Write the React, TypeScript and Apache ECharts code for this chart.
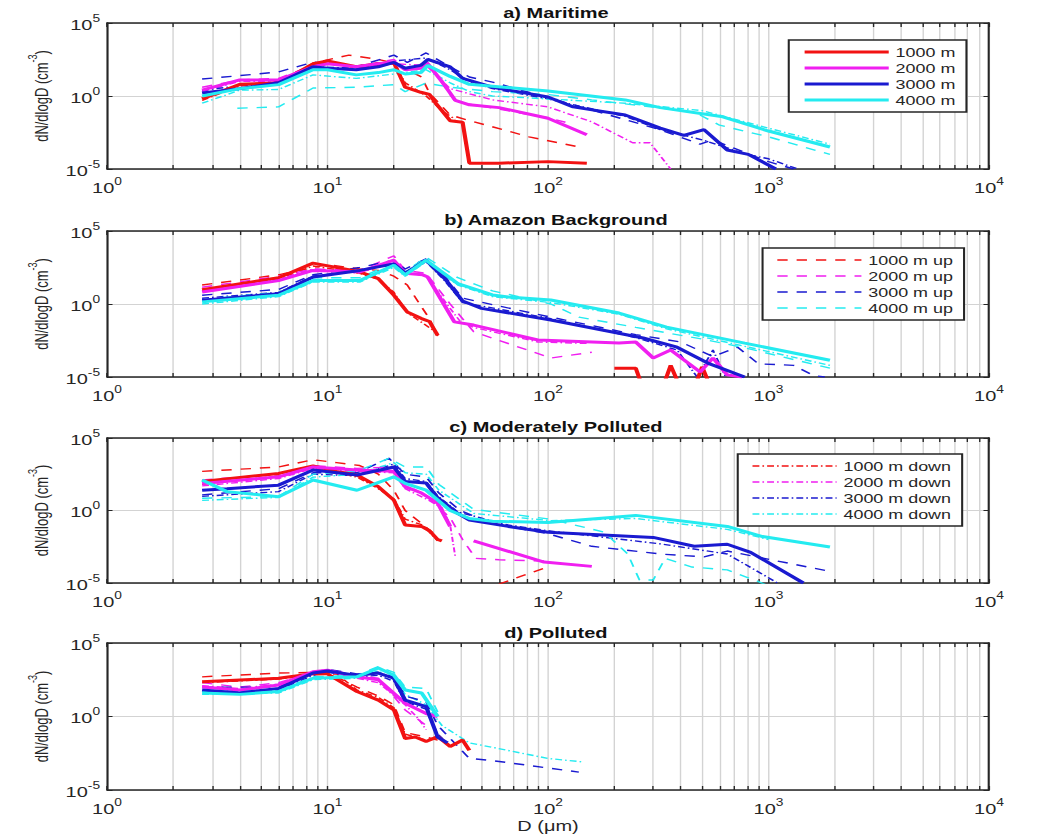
import React, { useEffect, useRef } from 'react';
import * as echarts from 'echarts';

// ---- axis ticks ----
const DIAM_LABEL_TICKS = [1, 10, 100, 1000, 10000];
const DIAM_GRID_TICKS = [
  1, 2, 3, 4, 5, 6, 7, 8, 9,
  10, 20, 30, 40, 50, 60, 70, 80, 90,
  100, 200, 300, 400, 500, 600, 700, 800, 900,
  1000, 2000, 3000, 4000, 5000, 6000, 7000, 8000, 9000,
  10000,
];
const CONC_TICKS = [1e-5, 1, 1e5];

const PANEL_TITLES = ['a) Maritime', 'b) Amazon Background', 'c) Moderately Polluted', 'd) Polluted'];
const ALTITUDES = ['1000 m', '2000 m', '3000 m', '4000 m'];
const ALT_COLORS = ['#f21212', '#f01ff0', '#1a1ad0', '#24ebf0'];

// ---- a) Maritime: [D (um), dN/dlogD (cm^-3)] ----
const maritime1000 = [[2.7, 0.63], [4, 6.3], [6, 8], [8.6, 160], [10, 250], [13.5, 100], [17, 160], [20, 200], [22.5, 4], [26.5, 1.8], [29, 1.3], [31, 0.32], [36, 0.02], [41, 0.016], [44, 2.5e-5], [60, 2.5e-5], [100, 3.2e-5], [150, 2.5e-5]];
const maritime2000 = [[2.7, 2.5], [4, 12.6], [6, 12.6], [8.6, 100], [10, 160], [13.5, 100], [17, 160], [20, 220], [22.5, 63], [26.5, 80], [28.5, 160], [33, 10], [38, 0.5], [44, 0.25], [60, 0.16], [100, 0.03], [150, 0.0022]];
const maritime3000 = [[2.7, 1.6], [4, 3.2], [6, 8], [8.6, 100], [10, 80], [13.5, 63], [17, 100], [20, 200], [22.5, 80], [26.5, 125], [28.5, 320], [36, 100], [41, 16], [56, 4], [100, 0.85], [130, 0.18], [224, 0.05], [323, 0.0063], [413, 0.002], [510, 0.005], [650, 2e-4], [810, 1e-4], [1080, 1e-5]];
const maritime4000 = [[2.7, 1], [4, 3.2], [6, 6], [8.6, 63], [10, 63], [13.5, 28], [17, 40], [20, 63], [22.5, 32], [26.5, 40], [28.5, 125], [36, 22], [44, 6.3], [56, 4.7], [100, 2.2], [224, 0.54], [323, 0.16], [610, 0.04], [1000, 0.004], [1900, 3.2e-4]];
const maritime1000Up = [[2.7, 0.7], [4, 5.6], [6, 8], [8.6, 180], [12.5, 630], [17, 320], [20, 180], [26.7, 20], [29, 1.6], [36, 0.05], [43, 0.023], [82, 0.0016], [145, 2.8e-4]];
const maritime2000Up = [[2.7, 4], [4, 12.6], [6, 16], [8.6, 125], [10, 200], [13.5, 100], [17, 200], [20, 320], [22.5, 80], [28.5, 200], [33, 8], [38, 0.4], [50, 0.2], [100, 0.032], [120, 0.016]];
const maritime3000Up = [[2.7, 14.5], [6, 44], [8.6, 210], [13.5, 100], [20, 630], [23, 200], [28, 890], [36, 100], [44, 20], [56, 9], [158, 0.11], [325, 0.0047], [490, 5e-4], [560, 0.001], [650, 4e-4], [1000, 3.2e-5], [1300, 1e-5]];
const maritime4000Up = [[3.9, 0.145], [6, 0.18], [8.6, 3.5], [13.5, 4], [20, 6], [22.5, 2], [28, 7.6], [36, 4], [56, 2], [100, 1.26], [158, 0.54], [460, 0.08], [600, 0.01], [1000, 0.0016], [1900, 1e-4]];
const maritime1000Down = [[2.7, 0.5], [4, 5], [6, 7], [8.6, 126], [10, 200], [13.5, 80], [17, 126], [20, 160], [22.5, 8], [28, 1], [33, 0.1], [38, 0.025]];
const maritime2000Down = [[2.7, 2], [4, 10], [6, 10], [8.6, 80], [13.5, 80], [20, 160], [28, 126], [36, 3.2], [56, 0.54], [100, 0.18], [158, 0.017], [242, 6.3e-4], [290, 6.3e-4], [360, 1e-5]];
const maritime3000Down = [[2.7, 2.5], [4, 5], [6, 10], [8.6, 100], [13.5, 80], [20, 250], [28, 400], [36, 63], [44, 10], [56, 3.2], [100, 0.63], [224, 0.04], [323, 0.005], [500, 0.001], [800, 1e-4], [1000, 5e-5], [1360, 1e-5]];
const maritime4000Down = [[2.7, 0.32], [4, 2.5], [6, 2.8], [8.6, 28], [13.5, 16], [20, 32], [28, 63], [36, 8], [44, 2], [56, 1], [100, 0.63], [224, 0.32], [500, 0.1], [1000, 0.0063], [1900, 5e-4]];

// ---- b) Amazon Background ----
const amazon1000 = [[2.7, 9.5], [6, 63], [8.6, 630], [14, 160], [17, 55], [20, 4], [23, 0.28], [26.7, 0.1], [29, 0.063], [31.6, 0.007], [40, null], [200, 4e-5], [250, 4e-5], [270, 1.6e-6], [330, 1.6e-6], [360, 6.3e-5], [400, 1.6e-6], [460, 1.6e-6], [500, 5e-5], [550, 1.6e-6]];
const amazon2000 = [[2.7, 6.6], [6, 40], [8.6, 200], [14, 160], [20, 1000], [22.5, 126], [27, 100], [28.5, 70], [37.6, 0.06], [46, 0.036], [90, 0.0034], [210, 0.0021], [250, 0.0025], [300, 2e-4], [360, 7e-4], [490, 2.2e-5], [560, 2e-4], [650, 1.4e-5], [760, 1e-5]];
const amazon3000 = [[2.7, 1.8], [6, 5], [8.6, 70], [14, 200], [20, 560], [22.5, 126], [28, 1000], [34, 55], [41, 1.6], [50, 0.5], [103, 0.08], [270, 0.0047], [385, 0.0011], [530, 9e-5], [780, 1e-5]];
const amazon4000 = [[2.7, 1.4], [6, 4], [8.6, 40], [14, 40], [20, 450], [22.5, 100], [28, 1000], [39, 25], [56, 4.2], [66, 3], [103, 1.9], [210, 0.24], [345, 0.026], [780, 0.0021], [1900, 1.4e-4]];
const amazon1000Up = [[2.7, 20], [6, 100], [8.6, 320], [10, 500], [14, 250], [17, 200], [20, 80], [23, 20], [26.7, 0.63], [29, 0.1], [31.6, 0.0063]];
const amazon2000Up = [[2.7, 14], [6, 80], [8.6, 250], [14, 200], [20, 2000], [22.5, 200], [28, 126], [36, 1], [46, 0.0126], [103, 2e-4], [158, 5e-4]];
const amazon3000Up = [[2.7, 4], [6, 10], [8.6, 100], [14, 320], [20, 1000], [22.5, 250], [28, 1260], [34, 80], [41, 2.5], [103, 0.126], [250, 0.008], [400, 0.0025], [560, 2.5e-4], [725, 0.0011], [900, 8e-5], [1300, 6.3e-5], [1600, 1.26e-5], [1800, 1e-5]];
const amazon4000Up = [[2.7, 2], [6, 6.3], [8.6, 63], [14, 63], [20, 630], [22.5, 160], [28, 1600], [39, 63], [56, 8], [103, 1], [138, 0.126], [250, 0.025], [500, 0.004], [780, 0.001], [1900, 4e-5]];
const amazon1000Down = [[2.7, 8], [6, 50], [8.6, 400], [14, 126], [17, 50], [20, 6.3], [23, 0.25], [27, 0.05], [31.6, 0.01]];
const amazon2000Down = [[2.7, 8], [6, 50], [8.6, 250], [14, 126], [20, 1000], [22.5, 160], [28, 80], [36, 0.5], [40, 0.063], [46, 0.025], [90, 0.0025], [150, 0.002]];
const amazon3000Down = [[2.7, 2.5], [6, 6.3], [8.6, 80], [14, 200], [20, 630], [22.5, 160], [28, 800], [34, 40], [41, 1.26], [103, 0.1], [250, 0.005], [385, 7e-4], [475, 1e-5], [560, 7e-4], [640, 1e-5]];
const amazon4000Down = [[2.7, 1], [6, 3.2], [8.6, 32], [14, 32], [20, 320], [22.5, 80], [28, 800], [39, 20], [56, 3.2], [103, 1.26], [210, 0.2], [345, 0.02], [780, 0.00126], [1900, 6.3e-5]];

// ---- c) Moderately Polluted ----
const moderate1000 = [[2.7, 100], [6, 360], [8.6, 1200], [11, 500], [13.6, 280], [17, 44], [20, 5.2], [22.5, 0.1], [26.7, 0.08], [29, 0.04], [31.6, 0.01], [33, 0.008]];
const moderate2000 = [[2.7, 74], [6, 210], [8.6, 1000], [13.6, 630], [20, 500], [22.5, 44], [26.7, 16], [31.6, 3.2], [36, 0.08], [40, null], [46, 0.008], [96, 2.8e-4], [158, 1.4e-4]];
const moderate3000 = [[2.7, 25], [3.5, 32], [6, 56], [8.6, 630], [13.6, 280], [20, 1000], [22.5, 100], [28, 80], [31.6, 7.4], [39, 0.63], [44, 0.22], [66, 0.08], [100, 0.032], [300, 0.014], [460, 0.0034], [650, 0.0047], [830, 0.0013], [1440, 1e-5]];
const moderate4000 = [[2.7, 126], [3.5, 20], [6, 9], [8.6, 126], [13.6, 25], [20, 210], [22.5, 74], [28, 25], [36, 1], [44, 0.28], [56, 0.18], [100, 0.15], [250, 0.46], [650, 0.08], [940, 0.016], [1900, 0.003]];
const moderate1000Up = [[2.7, 500], [6, 1000], [8.6, 3200], [11, 2000], [14, 1260], [17, 320], [20, 25], [22.5, 1], [26.7, 0.126], [31.6, 0.016], [40, null], [50, 3.2e-6], [95, 1e-4]];
const moderate2000Up = [[2.7, 126], [6, 320], [8.6, 1260], [13.6, 800], [20, 1000], [22.5, 63], [28, 10], [36, 0.32], [41, 0.01], [47, 5e-4], [60, 4e-4], [100, 3.2e-4]];
const moderate3000Up = [[2.7, 12], [6, 32], [8.6, 400], [13.6, 400], [19, 4000], [22.5, 320], [28, 200], [32, 16], [40, 1], [56, 0.126], [100, 0.025], [158, 0.0034], [323, 0.001], [510, 6.3e-4], [650, 0.0016], [1900, 6.3e-5]];
const moderate4000Up = [[2.7, 7], [6, 9], [8.6, 320], [13.6, 500], [19, 4000], [22.5, 1000], [28, 1000], [32, 63], [46, 1.2], [103, 0.25], [180, 0.032], [230, 0.001], [260, 1.6e-5], [300, 1.6e-5], [340, 5e-4], [450, 1.26e-4], [650, 8e-5], [900, 1.26e-5], [1000, 6.3e-6]];
const moderate1000Down = [[2.7, 63], [6, 250], [8.6, 800], [11, 400], [13.6, 200], [17, 32], [20, 6.3], [22.5, 0.25], [27, 0.1], [31.6, 0.008]];
const moderate2000Down = [[2.7, 50], [6, 160], [8.6, 800], [13.6, 500], [20, 400], [22.5, 32], [28, 6.3], [33, 1.6], [36, 0.1], [38, 6.3e-4]];
const moderate3000Down = [[2.7, 9.5], [6, 20], [8.6, 320], [13.6, 250], [20, 1600], [22.5, 160], [28, 100], [31.6, 10], [39, 0.8], [66, 0.1], [100, 0.04], [323, 0.005], [650, 0.001], [1100, 1e-5]];
const moderate4000Down = [[2.7, 5], [6, 8], [8.6, 200], [13.6, 320], [20, 2000], [22.5, 400], [28, 320], [32, 25], [46, 0.63], [103, 0.2], [250, 0.28], [650, 0.05], [1000, 0.01]];

// ---- d) Polluted ----
const polluted1000 = [[2.7, 230], [6, 400], [8.6, 800], [10, 800], [13.6, 50], [17, 13], [20, 2.8], [22.5, 0.032], [25, 0.04], [28, 0.02], [31.6, 0.043], [36, 0.009], [41, 0.025], [44, 0.005]];
const polluted2000 = [[2.7, 100], [4, 63], [6, 140], [8.6, 1100], [10, 1400], [13.6, 500], [17, 320], [22.5, 8], [28, 1.6], [31.6, 1]];
const polluted3000 = [[2.7, 63], [4, 40], [6, 80], [8.6, 900], [10, 1260], [13.6, 630], [17, 900], [20, 400], [22.5, 13], [28, 4.7], [31.6, 0.04], [35, 0.016]];
const polluted4000 = [[2.7, 40], [4, 32], [6, 50], [8.6, 400], [13.6, 500], [17, 2000], [20, 630], [22.5, 63], [26.7, 40], [31.6, 1]];
const polluted1000Up = [[2.7, 500], [6, 900], [8.6, 1000], [10, 1000], [13.6, 100], [17, 25], [20, 6.3], [22.5, 0.08], [28, 0.04], [31.6, 0.025]];
const polluted2000Up = [[2.7, 200], [4, 100], [6, 200], [8.6, 1000], [10, 1600], [13.6, 630], [17, 400], [22.5, 2.8], [28, 0.25]];
const polluted3000Up = [[2.7, 100], [6, 100], [8.6, 1000], [10, 1600], [13.6, 800], [17, 1000], [20, 500], [22.5, 25], [28, 10], [31.6, 0.25], [44, 0.0014], [56, 0.001], [138, 1.66e-4]];
const polluted4000Up = [[2.7, 50], [6, 63], [8.6, 500], [13.6, 630], [17, 2500], [20, 1000], [22.5, 100], [28, 80], [31.6, 2]];
const polluted1000Down = [[2.7, 200], [6, 350], [8.6, 700], [11, 800], [13.6, 63], [17, 20], [20, 4], [22.5, 0.063], [28, 0.025]];
const polluted2000Down = [[2.7, 126], [4, 80], [6, 160], [8.6, 800], [10, 1260], [13.6, 400], [17, 200], [22.5, 6.3], [26, 0.63], [28, 0.126]];
const polluted3000Down = [[2.7, 50], [6, 63], [8.6, 630], [10, 1000], [13.6, 500], [17, 630], [20, 250], [22.5, 10], [28, 3.2], [31.6, 0.063], [36, 0.01]];
const polluted4000Down = [[2.7, 32], [6, 40], [8.6, 320], [13.6, 400], [17, 1260], [20, 320], [22.5, 32], [28, 6.3], [33, 0.25], [44, 0.016], [56, 0.008], [100, 0.0014], [145, 8e-4]];

const PANELS = [
  { solid: [maritime1000, maritime2000, maritime3000, maritime4000], up: [maritime1000Up, maritime2000Up, maritime3000Up, maritime4000Up], down: [maritime1000Down, maritime2000Down, maritime3000Down, maritime4000Down] },
  { solid: [amazon1000, amazon2000, amazon3000, amazon4000], up: [amazon1000Up, amazon2000Up, amazon3000Up, amazon4000Up], down: [amazon1000Down, amazon2000Down, amazon3000Down, amazon4000Down] },
  { solid: [moderate1000, moderate2000, moderate3000, moderate4000], up: [moderate1000Up, moderate2000Up, moderate3000Up, moderate4000Up], down: [moderate1000Down, moderate2000Down, moderate3000Down, moderate4000Down] },
  { solid: [polluted1000, polluted2000, polluted3000, polluted4000], up: [polluted1000Up, polluted2000Up, polluted3000Up, polluted4000Up], down: [polluted1000Down, polluted2000Down, polluted3000Down, polluted4000Down] },
];

// ---- layout (the canvas is drawn narrow and stretched horizontally) ----
const CANVAS_W = 760;
const CANVAS_H = 836;
const STRETCH_X = 1048 / CANVAS_W;
const GRID_LEFT = 77.6;
const GRID_WIDTH = 639.6;
const GRID_TOPS = [23, 231, 438, 643];
const GRID_HEIGHTS = [146, 146, 145, 147];
const TITLE_Y = [13, 220, 427, 633];
const LEGEND_POS = [
  { left: 572, top: 40, suffix: '' },
  { left: 553, top: 248, suffix: ' up' },
  { left: 535, top: 454, suffix: ' down' },
];

const FONT = '"Liberation Sans", Arial, Helvetica, sans-serif';
const FRAME = '#262626';
const TEXT = '#262626';
const GRIDLINE = '#d3d3d3';
const DASHED = [7.5, 6.5];
const DASH_DOT = [5, 2.2, 1.2, 2.2];

const powerRich = {
  b: { fontSize: 14.5, fontFamily: FONT, color: TEXT, verticalAlign: 'bottom', lineHeight: 19 },
  e: { fontSize: 10, fontFamily: FONT, color: TEXT, verticalAlign: 'top', lineHeight: 19 },
};
const powerLabel = (v: number) => `{b|10}{e|${Math.round(Math.log10(v))}}`;

function buildOption() {
  const grid: any[] = [];
  const xAxis: any[] = [];
  const yAxis: any[] = [];
  const series: any[] = [];

  PANELS.forEach((panel, p) => {
    grid.push({ left: GRID_LEFT, width: GRID_WIDTH, top: GRID_TOPS[p], height: GRID_HEIGHTS[p] });

    xAxis.push({
      type: 'log', logBase: 10, gridIndex: p, min: 1, max: 10000, position: 'bottom',
      axisLine: { show: true, onZero: false, lineStyle: { color: FRAME, width: 1.5 } },
      axisTick: { show: true, inside: true, length: 4, customValues: DIAM_GRID_TICKS, lineStyle: { color: FRAME, width: 1 } },
      axisLabel: { show: true, customValues: DIAM_LABEL_TICKS, formatter: powerLabel, rich: powerRich, margin: 8 },
      splitLine: { show: true, lineStyle: { color: GRIDLINE, width: 1 } },
      name: p === 3 ? 'D (μm)' : '',
      nameLocation: 'middle', nameGap: 29,
      nameTextStyle: { fontSize: 14.5, fontFamily: FONT, color: TEXT },
    });
    xAxis.push({
      type: 'log', logBase: 10, gridIndex: p, min: 1, max: 10000, position: 'top',
      axisLine: { show: true, onZero: false, lineStyle: { color: FRAME, width: 1.5 } },
      axisTick: { show: true, inside: true, length: 4, customValues: DIAM_GRID_TICKS, lineStyle: { color: FRAME, width: 1 } },
      axisLabel: { show: false },
      splitLine: { show: false },
    });
    yAxis.push({
      type: 'log', logBase: 10, gridIndex: p, min: 1e-5, max: 1e5, position: 'left',
      axisLine: { show: true, onZero: false, lineStyle: { color: FRAME, width: 1.5 } },
      axisTick: { show: true, inside: true, length: 4, customValues: CONC_TICKS, lineStyle: { color: FRAME, width: 1 } },
      axisLabel: { show: true, customValues: CONC_TICKS, formatter: powerLabel, rich: powerRich, margin: 5 },
      splitLine: { show: true, lineStyle: { color: GRIDLINE, width: 1 } },
      name: '{a|dN/dlogD (cm}{e|-3}{a|)}',
      nameLocation: 'middle', nameRotate: 90, nameGap: 35,
      nameTextStyle: {
        rich: {
          a: { fontSize: 13, fontFamily: FONT, color: TEXT, verticalAlign: 'bottom', lineHeight: 18 },
          e: { fontSize: 9, fontFamily: FONT, color: TEXT, verticalAlign: 'top', lineHeight: 18 },
        },
      },
    });
    yAxis.push({
      type: 'log', logBase: 10, gridIndex: p, min: 1e-5, max: 1e5, position: 'right',
      axisLine: { show: true, onZero: false, lineStyle: { color: FRAME, width: 1.5 } },
      axisTick: { show: true, inside: true, length: 4, customValues: CONC_TICKS, lineStyle: { color: FRAME, width: 1 } },
      axisLabel: { show: false },
      splitLine: { show: false },
    });

    const addLines = (sets: any[], suffix: string, width: number, dash: any) => {
      sets.forEach((data, k) => {
        series.push({
          type: 'line',
          name: ALTITUDES[k] + suffix,
          xAxisIndex: p * 2,
          yAxisIndex: p * 2,
          data,
          symbol: 'none',
          showSymbol: false,
          connectNulls: false,
          clip: true,
          silent: true,
          color: ALT_COLORS[k],
          lineStyle: { color: ALT_COLORS[k], width, type: dash },
        });
      });
    };
    addLines(panel.down, ' down', 1.4, DASH_DOT);
    addLines(panel.up, ' up', 1.4, DASHED);
    addLines(panel.solid, '', 3, 'solid');
  });

  const legend = LEGEND_POS.map((pos, i) => ({
    data: ALTITUDES.map((a) => ({ name: a + pos.suffix })),
    left: pos.left,
    top: pos.top,
    orient: 'vertical',
    itemWidth: 61,
    itemHeight: 14,
    itemGap: 2,
    padding: [5, 8, 5, 10],
    borderColor: FRAME,
    borderWidth: 1.5,
    backgroundColor: '#ffffff',
    selectedMode: false,
    itemStyle: { opacity: 0 },
    lineStyle: { width: i === 0 ? 3 : 1.4 },
    textStyle: { fontSize: 13, fontFamily: FONT, color: TEXT, lineHeight: 14 },
  }));

  const graphic = PANEL_TITLES.map((t, i) => ({
    type: 'text',
    x: GRID_LEFT + GRID_WIDTH * 0.509,
    y: TITLE_Y[i],
    silent: true,
    style: {
      text: t,
      fill: '#111111',
      fontSize: 14.5,
      fontWeight: 'bold',
      fontFamily: FONT,
      align: 'center',
      verticalAlign: 'middle',
    },
  }));

  return {
    animation: false,
    backgroundColor: '#ffffff',
    textStyle: { fontFamily: FONT },
    grid,
    xAxis,
    yAxis,
    legend,
    graphic,
    series,
  };
}

export default function App() {
  const ref = useRef<HTMLDivElement>(null);
  useEffect(() => {
    if (!ref.current) return;
    const chart = echarts.init(ref.current, null, { renderer: 'svg', width: CANVAS_W, height: CANVAS_H });
    chart.setOption(buildOption() as any);
    return () => chart.dispose();
  }, []);
  return (
    <div style={{ position: 'fixed', left: 0, top: 0, width: 1048, height: CANVAS_H, overflow: 'hidden', background: '#ffffff' }}>
      <div
        ref={ref}
        style={{ width: CANVAS_W, height: CANVAS_H, transform: `scaleX(${STRETCH_X})`, transformOrigin: '0 0' }}
      />
    </div>
  );
}
